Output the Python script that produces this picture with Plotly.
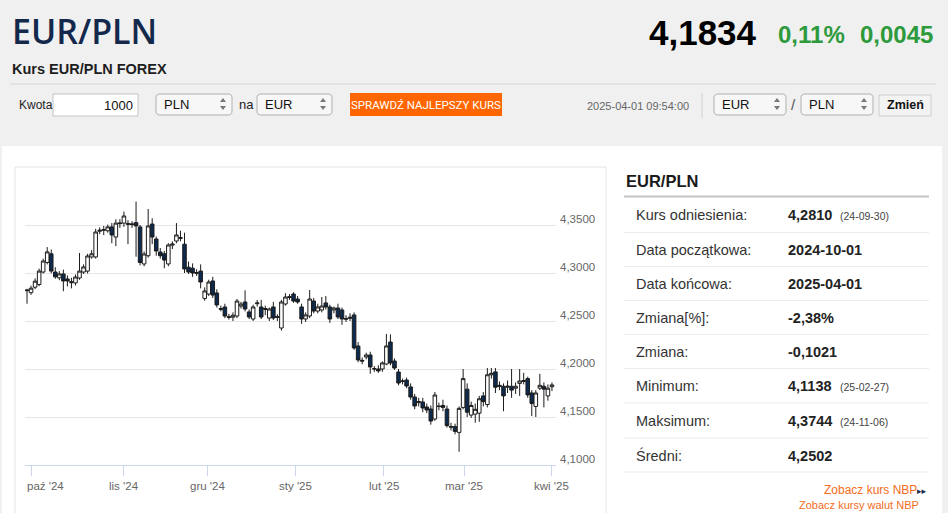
"""
EUR/PLN FOREX – kurs z ostatnich 6 miesięcy (świece dzienne) + panel statystyk.
"""
import numpy as np
import pandas as pd
import plotly.graph_objects as go

W, H = 948, 513
FONT = "Liberation Sans, Arial, sans-serif"

# ── dane: świece dzienne (30.09.2024 – 01.04.2025) ─────────────────────────
opens = [
    4.2815, 4.2795, 4.2852, 4.2880, 4.3010, 4.3110, 4.3200, 4.3010, 4.2950, 4.2990,
    4.2938, 4.2910, 4.2896, 4.2948, 4.3010, 4.3020, 4.3167, 4.3167, 4.3435, 4.3445,
    4.3440, 4.3480, 4.3375, 4.3522, 4.3520, 4.3515, 4.3512, 4.3525, 4.3480, 4.3094,
    4.3180, 4.3510,
    4.3354, 4.3219, 4.3200, 4.3094, 4.3290, 4.3333, 4.3370, 4.3300, 4.3060, 4.3050,
    4.3005, 4.3020, 4.2735, 4.2781, 4.2917, 4.2792, 4.2630, 4.2646, 4.2545, 4.2540,
    4.2552, 4.2656, 4.2698, 4.2594, 4.2521, 4.2680, 4.2646, 4.2620, 4.2531, 4.2646,
    4.2545, 4.2427, 4.2677, 4.2745, 4.2781,
    4.2729, 4.2646, 4.2521, 4.2552, 4.2708, 4.2604, 4.2615, 4.2688, 4.2646, 4.2615,
    4.2635, 4.2615, 4.2525, 4.2540, 4.2563, 4.2240, 4.2090, 4.2125, 4.2146, 4.2000,
    4.2000, 4.2000, 4.2052, 4.2281, 4.2083, 4.1969, 4.1870, 4.1885, 4.1813, 4.1708,
    4.1650, 4.1656, 4.1604, 4.1583, 4.1479,
    4.1610, 4.1620, 4.1583, 4.1400, 4.1400, 4.1340, 4.1600, 4.1790, 4.1520, 4.1530,
    4.1540, 4.1720, 4.1630, 4.1940, 4.1970, 4.1830, 4.1820, 4.1810, 4.1820, 4.1800,
    4.1850, 4.1870, 4.1900, 4.1750, 4.1610, 4.1800, 4.1820, 4.1720, 4.1815,
]
highs = [
    4.2835, 4.2868, 4.2945, 4.3045, 4.3150, 4.3270, 4.3245, 4.3060, 4.3020, 4.3035,
    4.2975, 4.2950, 4.2985, 4.3208, 4.3090, 4.3200, 4.3240, 4.3460, 4.3475, 4.3490,
    4.3505, 4.3520, 4.3560, 4.3560, 4.3640, 4.3550, 4.3540, 4.3744, 4.3500, 4.3225,
    4.3667, 4.3570,
    4.3380, 4.3260, 4.3230, 4.3310, 4.3330, 4.3520, 4.3440, 4.3420, 4.3120, 4.3100,
    4.3040, 4.3090, 4.2850, 4.2930, 4.2960, 4.2830, 4.2660, 4.2680, 4.2575, 4.2590,
    4.2730, 4.2700, 4.2820, 4.2620, 4.2670, 4.2720, 4.2720, 4.2660, 4.2640, 4.2700,
    4.2570, 4.2720, 4.2790, 4.2780, 4.2800,
    4.2760, 4.2680, 4.2590, 4.2823, 4.2740, 4.2680, 4.2750, 4.2760, 4.2670, 4.2650,
    4.2680, 4.2640, 4.2560, 4.2580, 4.2590, 4.2280, 4.2120, 4.2170, 4.2180, 4.2030,
    4.2040, 4.2080, 4.2365, 4.2360, 4.2110, 4.2000, 4.1900, 4.1910, 4.1850, 4.1740,
    4.1700, 4.1700, 4.1640, 4.1620, 4.1760,
    4.1650, 4.1680, 4.1620, 4.1440, 4.1430, 4.1610, 4.2000, 4.1850, 4.1660, 4.1640,
    4.1720, 4.1760, 4.2010, 4.2010, 4.2010, 4.1870, 4.1850, 4.1880, 4.2000, 4.1860,
    4.2000, 4.1960, 4.1920, 4.1780, 4.1780, 4.1950, 4.1860, 4.1840, 4.1860,
]
lows = [
    4.2680, 4.2772, 4.2832, 4.2862, 4.2995, 4.3090, 4.2995, 4.2940, 4.2925, 4.2810,
    4.2860, 4.2840, 4.2870, 4.2930, 4.2990, 4.2995, 4.3150, 4.3150, 4.3405, 4.3395,
    4.3420, 4.3310, 4.3280, 4.3470, 4.3480, 4.3300, 4.3470, 4.3170, 4.3080, 4.3070,
    4.3160, 4.3300,
    4.3180, 4.3150, 4.3050, 4.3070, 4.3250, 4.3310, 4.3330, 4.3000, 4.2990, 4.2960,
    4.2970, 4.2840, 4.2710, 4.2760, 4.2740, 4.2640, 4.2600, 4.2530, 4.2515, 4.2500,
    4.2530, 4.2630, 4.2600, 4.2520, 4.2500, 4.2650, 4.2520, 4.2560, 4.2500, 4.2510,
    4.2500, 4.2400, 4.2660, 4.2720, 4.2690,
    4.2680, 4.2470, 4.2490, 4.2530, 4.2580, 4.2580, 4.2590, 4.2620, 4.2480, 4.2580,
    4.2520, 4.2460, 4.2490, 4.2500, 4.2200, 4.2070, 4.2050, 4.2100, 4.1950, 4.1970,
    4.1960, 4.1970, 4.2040, 4.2040, 4.1990, 4.1830, 4.1840, 4.1800, 4.1680, 4.1580,
    4.1610, 4.1550, 4.1540, 4.1420, 4.1460,
    4.1570, 4.1560, 4.1390, 4.1360, 4.1320, 4.1138, 4.1580, 4.1500, 4.1490, 4.1440,
    4.1450, 4.1610, 4.1600, 4.1900, 4.1750, 4.1780, 4.1560, 4.1750, 4.1700, 4.1740,
    4.1720, 4.1840, 4.1700, 4.1510, 4.1500, 4.1780, 4.1600, 4.1670, 4.1770,
]
closes = [
    4.2822, 4.2842, 4.2915, 4.3020, 4.3125, 4.3220, 4.3020, 4.2960, 4.2990, 4.2917,
    4.2917, 4.2900, 4.2958, 4.3020, 4.3063, 4.3177, 4.3200, 4.3427, 4.3445, 4.3452,
    4.3480, 4.3396, 4.3520, 4.3515, 4.3594, 4.3508, 4.3505, 4.3490, 4.3110, 4.3198,
    4.3490, 4.3375,
    4.3229, 4.3180, 4.3135, 4.3292, 4.3302, 4.3396, 4.3362, 4.3042, 4.3010, 4.3000,
    4.2998, 4.2906, 4.2813, 4.2906, 4.2770, 4.2667, 4.2622, 4.2552, 4.2538, 4.2560,
    4.2708, 4.2677, 4.2625, 4.2542, 4.2646, 4.2688, 4.2542, 4.2630, 4.2625, 4.2531,
    4.2540, 4.2698, 4.2750, 4.2752, 4.2708,
    4.2698, 4.2521, 4.2563, 4.2729, 4.2604, 4.2646, 4.2656, 4.2646, 4.2521, 4.2635,
    4.2542, 4.2521, 4.2520, 4.2530, 4.2219, 4.2094, 4.2083, 4.2146, 4.2021, 4.2003,
    4.1980, 4.2063, 4.2240, 4.2063, 4.2010, 4.1854, 4.1875, 4.1823, 4.1708, 4.1615,
    4.1660, 4.1594, 4.1573, 4.1458, 4.1729,
    4.1612, 4.1600, 4.1410, 4.1395, 4.1350, 4.1590, 4.1900, 4.1550, 4.1620, 4.1580,
    4.1690, 4.1660, 4.1940, 4.1955, 4.1810, 4.1820, 4.1720, 4.1820, 4.1780, 4.1820,
    4.1875, 4.1880, 4.1730, 4.1640, 4.1750, 4.1830, 4.1790, 4.1800, 4.1834,
]

# dni notowań (bez weekendów i 1 stycznia)
dates = pd.bdate_range("2024-09-30", "2025-04-01")
dates = dates[dates != pd.Timestamp("2025-01-01")]
assert len(dates) == len(opens) == len(highs) == len(lows) == len(closes)

y_ticks = [4.10, 4.15, 4.20, 4.25, 4.30, 4.35, 4.40]
month_starts = ["2024-10-01", "2024-11-01", "2024-12-01", "2025-01-01",
                "2025-02-01", "2025-03-01", "2025-04-01"]
month_labels = ["paź '24", "lis '24", "gru '24", "sty '25", "lut '25", "mar '25", "kwi '25"]

stat_labels = ["Kurs odniesienia:", "Data początkowa:", "Data końcowa:", "Zmiana[%]:",
               "Zmiana:", "Minimum:", "Maksimum:", "Średni:"]
stat_values = ["4,2810", "2024-10-01", "2025-04-01", "-2,38%",
               "-0,1021", "4,1138", "4,3744", "4,2502"]
stat_dates = ["(24-09-30)", "", "", "", "", "(25-02-27)", "(24-11-06)", ""]

# ── pomocnicze: piksele strony -> współrzędne paper ─────────────────────────
def px(x):
    return x / W


def py(y):
    return 1 - y / H


shapes, notes = [], []


def text(x, y, s, size=12, color="#222", weight="normal", xanchor="left",
         family=FONT, yanchor="middle"):
    notes.append(dict(x=px(x), y=py(y), xref="paper", yref="paper", text=s,
                      showarrow=False, xanchor=xanchor, yanchor=yanchor,
                      font=dict(size=size, color=color, family=family, weight=weight)))


def rect(x0, y0, x1, y1, fill="rgba(0,0,0,0)", line=None, width=1):
    shapes.append(dict(type="rect", xref="paper", yref="paper", layer="below",
                       x0=px(x0), x1=px(x1), y0=py(y1), y1=py(y0), fillcolor=fill,
                       line=dict(color=line or "rgba(0,0,0,0)", width=width if line else 0)))


def hline(x0, x1, y, color, width=1):
    shapes.append(dict(type="line", xref="paper", yref="paper", layer="below",
                       x0=px(x0), x1=px(x1), y0=py(y), y1=py(y),
                       line=dict(color=color, width=width)))


def rrect(x0, y0, x1, y1, r=4, fill="#f7f7f7", line="#b0b0b0"):
    p = lambda x, y: f"{px(x):.5f},{py(y):.5f}"
    path = (f"M{p(x0 + r, y0)} L{p(x1 - r, y0)} Q{p(x1, y0)} {p(x1, y0 + r)} "
            f"L{p(x1, y1 - r)} Q{p(x1, y1)} {p(x1 - r, y1)} L{p(x0 + r, y1)} "
            f"Q{p(x0, y1)} {p(x0, y1 - r)} L{p(x0, y0 + r)} Q{p(x0, y0)} {p(x0 + r, y0)} Z")
    shapes.append(dict(type="path", xref="paper", yref="paper", layer="below", path=path,
                       fillcolor=fill, line=dict(color=line, width=1)))


def select(x0, x1, label):
    rrect(x0, 94, x1, 115)
    text(x0 + 6, 104.5, label, size=13, color="#111")
    cx = x1 - 9
    p = lambda x, y: f"{px(x):.5f},{py(y):.5f}"
    for a, b in ((102, 98), (106, 110)):
        shapes.append(dict(type="path", xref="paper", yref="paper", layer="below",
                           path=f"M{p(cx - 3, a)} L{p(cx + 3, a)} L{p(cx, b)} Z",
                           fillcolor="#777", line=dict(width=0)))


# ── tło strony ──────────────────────────────────────────────────────────────
rect(2, 146, 942, 520, fill="#ffffff")
rect(15, 167, 606, 530, line="#e4e4e4")
hline(10, 936, 84, "#d6d6d6")

# nagłówek
text(10, 31, "EUR/PLN", size=34, color="#13284b", weight=600, family="Open Sans, " + FONT)
text(10, 68.5, "Kurs EUR/PLN FOREX", size=14.5, color="#1e1e1e", weight="bold")
text(759, 32, "4,1834", size=35, color="#000", weight="bold", xanchor="right")
text(776, 35, "0,11%", size=24, color="#2d9a3c", weight="bold")
text(858, 35, "0,0045", size=24, color="#2d9a3c", weight="bold")

# pasek kalkulatora
text(17, 105, "Kwota", size=12, color="#222")
rect(53, 94, 138, 116, fill="#ffffff", line="#c4c4c4")
text(135, 105, "1000", size=13, color="#111", xanchor="right")
select(156, 232, "PLN")
text(237, 104.5, "na", size=13, color="#222")
select(257, 332, "EUR")
rect(350, 93, 502, 116, fill="#ff6600")
text(426, 104.5, "SPRAWDŹ NAJLEPSZY KURS", size=11.5, color="#ffffff",
     xanchor="center", family="Roboto, " + FONT)
text(691, 106, "2025-04-01 09:54:00", size=11, color="#666", xanchor="right")
shapes.append(dict(type="line", xref="paper", yref="paper", layer="below",
                   x0=px(702), x1=px(702), y0=py(93), y1=py(118),
                   line=dict(color="#d0d0d0", width=1)))
select(714, 786, "EUR")
text(793.5, 104.5, "/", size=15, color="#555", xanchor="center")
select(801, 873, "PLN")
rect(879, 95, 931, 116, fill="#f3f3f3", line="#cdcdcd")
text(905, 105.5, "Zmień", size=12.5, color="#111", weight="bold", xanchor="center")

# panel statystyk
text(624, 181, "EUR/PLN", size=16.5, color="#1a1a1a", weight="bold")
hline(624, 929, 196.5, "#c4c4c4", width=2)
row_y = [215, 249.5, 283.5, 317.5, 351.5, 385.5, 420.5, 455.5]
sep_y = [232.5, 266.5, 300.5, 334.5, 368.5, 403, 438, 472]
for lab, val, dt, yy, sy in zip(stat_labels, stat_values, stat_dates, row_y, sep_y):
    text(634, yy, lab, size=14.5, color="#333")
    text(786, yy, val, size=14.5, color="#222", weight="bold")
    if dt:
        text(838, yy + 1, dt, size=10.5, color="#444")
    hline(624, 929, sy, "#ebebeb")
text(919, 490, "Zobacz kurs NBP", size=12, color="#f36c21", xanchor="right")
text(929, 490.5, "▸▸", size=9, color="#1a2a4a", xanchor="right", family="DejaVu Sans")
text(797, 504.5, "Zobacz kursy walut NBP", size=11, color="#f36c21")

# ── wykres świecowy ─────────────────────────────────────────────────────────
idx = np.arange(len(dates))
tick_pos = np.interp(pd.to_datetime(month_starts).asi8, dates.asi8, idx)

fig = go.Figure(go.Candlestick(
    x=idx, open=opens, high=highs, low=lows, close=closes,
    increasing=dict(fillcolor="#ffffff", line=dict(color="#1c1c1c", width=1)),
    decreasing=dict(fillcolor="#0d2a4f", line=dict(color="#1c1c1c", width=1)),
    whiskerwidth=0, hoverinfo="skip", showlegend=False,
))

y_lo, y_hi = 4.0995, 4.4005
for v in y_ticks[:-1]:
    notes.append(dict(x=px(558), y=v, xref="paper", yref="y", showarrow=False,
                      text=f"{v:.4f}".replace(".", ","), xanchor="left", yanchor="bottom",
                      yshift=-2, font=dict(size=11.5, color="#666", family=FONT)))
for i, (pos, lab) in enumerate(zip(tick_pos, month_labels)):
    notes.append(dict(x=pos, y=py(479), xref="x", yref="paper", showarrow=False,
                      text=lab, xanchor="left" if i == 0 else "center",
                      yanchor="middle", yshift=-7,
                      xshift=-6 if i == 0 else 0,
                      font=dict(size=11.5, color="#666", family=FONT)))

fig.update_layout(
    width=W, height=H,
    margin=dict(l=0, r=0, t=0, b=0),
    paper_bgcolor="#f0f0f0",
    plot_bgcolor="#ffffff",
    font=dict(family=FONT, size=12, color="#333"),
    showlegend=False,
    boxgap=0.12,
    boxgroupgap=0,
    shapes=shapes,
    annotations=notes,
    xaxis=dict(
        domain=[px(25), px(556)], range=[-0.5, 131],
        showgrid=False, zeroline=False, showline=True, linecolor="#ccd6eb",
        ticks="outside", ticklen=10, tickcolor="#ccd6eb", tickvals=tick_pos,
        showticklabels=False, rangeslider=dict(visible=False), fixedrange=True,
    ),
    yaxis=dict(
        domain=[1 - (465 + 0.0005 * 960) / H, 1 - (177 - 0.0005 * 960) / H],
        range=[y_lo, y_hi], side="right",
        tickvals=y_ticks, showgrid=True, gridcolor="#e6e6e6", gridwidth=1,
        zeroline=False, showticklabels=False, ticks="", fixedrange=True,
    ),
)

fig.write_html("out.html", config={"displayModeBar": False},
               post_script="document.body.style.margin='0px';")
